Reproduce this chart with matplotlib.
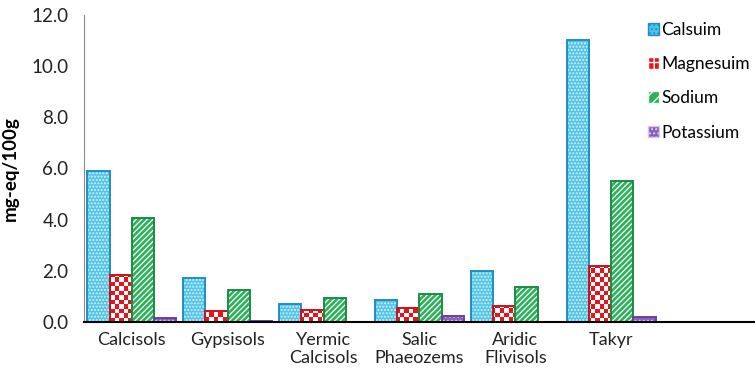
import numpy as np
import matplotlib.pyplot as plt
from matplotlib.patches import Patch
from matplotlib.colors import ListedColormap

plt.rcParams['font.family'] = ['Lato', 'DejaVu Sans']
plt.rcParams['hatch.linewidth'] = 1.0

# soil groups (last slot left empty)
soils = ['Calcisols', 'Gypsisols', 'Yermic\nCalcisols', 'Salic\nPhaeozems',
         'Aridic\nFlivisols', 'Takyr', '']
calcium = [5.9, 1.72, 0.7, 0.86, 2.0, 11.0, 0]
magnesium = [1.84, 0.43, 0.47, 0.55, 0.63, 2.19, 0]
sodium = [4.06, 1.25, 0.94, 1.1, 1.37, 5.5, 0]
potassium = [0.15, 0.05, 0.0, 0.22, 0.0, 0.18, 0]
names = ['Calsuim', 'Magnesuim', 'Sodium', 'Potassium']

fig = plt.figure(figsize=(7.55, 3.82), dpi=100)
ax = fig.add_axes([0.111, 0.157, 0.889, 0.804])

x = np.arange(len(soils)) + 0.5
w = 0.232
offs = np.array([-1.5, -0.5, 0.5, 1.5]) * w


def hatched(vals, dx, face, hcolor, hatch, edge):
    bars = ax.bar(x + dx, vals, w, color=face, edgecolor=hcolor,
                  hatch=hatch, linewidth=0, zorder=2)
    ax.bar(x + dx, vals, w, facecolor='none', edgecolor=edge,
           linewidth=1.4, zorder=3)
    return bars


hatched(calcium, offs[0], '#52c4e6', '#d5f1fa', '.....', '#1e8fc4')

# magnesium: red/white checker texture clipped to each bar
mg = ax.bar(x + offs[1], magnesium, w, color='white', linewidth=0, zorder=2)
ny, nx = 70, 155
checker = (np.add.outer(np.arange(ny), np.arange(nx)) % 2).astype(float)
cmap = ListedColormap(['#e8141c', 'white'])
for b in mg:
    im = ax.imshow(checker, cmap=cmap, extent=(0, 7, 0, 12), origin='lower',
                   aspect='auto', interpolation='nearest', zorder=2.5)
    im.set_clip_path(b)
ax.bar(x + offs[1], magnesium, w, facecolor='none', edgecolor='#d01018',
       linewidth=1.4, zorder=3)

hatched(sodium, offs[2], '#2fae5e', '#e6f7ea', '//////', '#1c8c45')
hatched(potassium, offs[3], '#8a5cc0', '#d9c8ee', '....', '#6a3fa0')

ax.set_xlim(0, 7)
ax.set_ylim(0, 12)
ax.set_yticks(np.arange(0, 12.1, 2))
ax.set_yticklabels([f'{v:.1f}' for v in np.arange(0, 12.1, 2)], fontsize=13.5,
                   color='#222222')
ax.set_xticks(x)
ax.set_xticklabels(soils, fontsize=13, color='#222222')
ax.tick_params(length=0, pad=7)
ax.tick_params(axis='y', pad=11)
ax.set_ylabel('mg-eq/100g', fontsize=13.5, fontweight='bold', labelpad=9)

for s in ['top', 'right']:
    ax.spines[s].set_visible(False)
ax.spines['left'].set_color('#8c8c8c')
ax.spines['bottom'].set_color('black')
ax.spines['bottom'].set_linewidth(1.5)
ax.spines['bottom'].set_zorder(4)

handles = [
    Patch(facecolor='#52c4e6', edgecolor='#1e8fc4', hatch='....'),
    Patch(facecolor='#e8141c', edgecolor='white', hatch='++'),
    Patch(facecolor='#2fae5e', edgecolor='#e6f7ea', hatch='///'),
    Patch(facecolor='#8a5cc0', edgecolor='#d9c8ee', hatch='....'),
]
leg = ax.legend(handles, names, loc='upper left', bbox_to_anchor=(0.83, 1.0),
                borderaxespad=0, frameon=False, fontsize=12.5,
                handlelength=0.65, handleheight=0.65, handletextpad=0.12,
                labelspacing=1.05)

fig.savefig('out.png', dpi=100)
